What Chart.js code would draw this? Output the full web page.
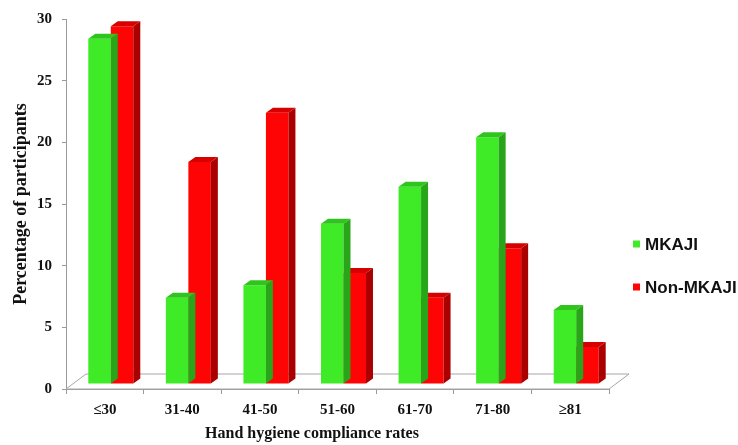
<!DOCTYPE html>
<html>
<head>
<meta charset="utf-8">
<script src="https://cdn.jsdelivr.net/npm/chart.js@4/dist/chart.umd.min.js"></script>
<style>
  html, body { margin: 0; padding: 0; background: #ffffff; }
  #wrap { width: 738px; height: 445px; }
</style>
</head>
<body>
<div id="wrap"><canvas id="c" width="738" height="445"></canvas></div>
<script>
const categories = ['\u226430', '31-40', '41-50', '51-60', '61-70', '71-80', '\u226581'];
const mkaji = [28, 7, 8, 13, 16, 20, 6];
const nonMkaji = [29, 18, 22, 9, 7, 11, 3];
const seriesLabels = ['MKAJI', 'Non-MKAJI'];
const yTitle = 'Percentage of participants';
const xTitle = 'Hand hygiene compliance rates';

const frontColors = ['rgb(62,235,38)', 'rgb(255,4,4)'];
const topColors = ['rgb(48,196,30)', 'rgb(214,0,0)'];
const sideColors = ['rgb(40,165,24)', 'rgb(170,0,0)'];

const BAR_SHIFT = { x: 6, y: -5 };
const BAR_DEPTH = { x: 7, y: -5 };
const FLOOR_DEPTH = { x: 20, y: -15 };

const threeD = {
  id: 'threeD',
  beforeDatasetsDraw(chart) {
    const ctx = chart.ctx, a = chart.chartArea;
    ctx.save();
    ctx.beginPath();
    ctx.moveTo(a.left, a.bottom);
    ctx.lineTo(a.right, a.bottom);
    ctx.lineTo(a.right + FLOOR_DEPTH.x, a.bottom + FLOOR_DEPTH.y);
    ctx.lineTo(a.left + FLOOR_DEPTH.x, a.bottom + FLOOR_DEPTH.y);
    ctx.closePath();
    ctx.fillStyle = '#ffffff';
    ctx.fill();
    ctx.strokeStyle = '#a6a6a6';
    ctx.lineWidth = 1;
    ctx.stroke();
    ctx.restore();
  },
  beforeDatasetDraw(chart) {
    chart.ctx.save();
    chart.ctx.translate(BAR_SHIFT.x, BAR_SHIFT.y);
  },
  afterDatasetDraw(chart, args) {
    const ctx = chart.ctx;
    const i = args.index;
    args.meta.data.forEach(el => {
      const p = el.getProps(['x', 'y', 'base', 'width'], true);
      const l = p.x - p.width / 2, r = p.x + p.width / 2;
      const t = Math.min(p.y, p.base), b = Math.max(p.y, p.base);
      // side
      ctx.beginPath();
      ctx.moveTo(r, t);
      ctx.lineTo(r + BAR_DEPTH.x, t + BAR_DEPTH.y);
      ctx.lineTo(r + BAR_DEPTH.x, b + BAR_DEPTH.y);
      ctx.lineTo(r, b);
      ctx.closePath();
      ctx.fillStyle = sideColors[i];
      ctx.fill();
      // top
      ctx.beginPath();
      ctx.moveTo(l, t);
      ctx.lineTo(l + BAR_DEPTH.x, t + BAR_DEPTH.y);
      ctx.lineTo(r + BAR_DEPTH.x, t + BAR_DEPTH.y);
      ctx.lineTo(r, t);
      ctx.closePath();
      ctx.fillStyle = topColors[i];
      ctx.fill();
    });
    ctx.restore();
  },
  afterDraw(chart) {
    const ctx = chart.ctx;
    ctx.save();
    // legend
    ctx.font = 'bold 17px "Liberation Sans", Arial, sans-serif';
    ctx.textBaseline = 'middle';
    ctx.textAlign = 'left';
    const ly = [244, 287];
    chart.data.datasets.forEach((ds, k) => {
      ctx.fillStyle = ds.backgroundColor;
      ctx.fillRect(633, ly[k] - 3.5, 7, 7);
      ctx.fillStyle = '#111111';
      ctx.fillText(ds.label, 645, ly[k] + 1);
    });
    // x axis title
    ctx.font = 'bold 16px "Liberation Serif", "Times New Roman", serif';
    ctx.textAlign = 'center';
    ctx.fillStyle = '#111111';
    ctx.fillText(xTitle, 312, 434);
    ctx.restore();
  }
};

new Chart(document.getElementById('c'), {
  type: 'bar',
  data: {
    labels: categories,
    datasets: [
      { label: seriesLabels[0], data: mkaji, backgroundColor: frontColors[0], borderWidth: 0, clip: false },
      { label: seriesLabels[1], data: nonMkaji, backgroundColor: frontColors[1], borderWidth: 0, clip: false }
    ]
  },
  options: {
    responsive: false,
    animation: false,
    devicePixelRatio: 1,
    layout: { padding: { left: 0, top: 17, right: 129, bottom: 0 } },
    datasets: { bar: { categoryPercentage: 0.58, barPercentage: 1.0 } },
    plugins: {
      legend: { display: false },
      tooltip: { enabled: false }
    },
    scales: {
      x: {
        afterFit(scale) { scale.height = 56; },
        border: { display: true, color: '#9a9a9a', width: 1 },
        grid: { display: true, drawOnChartArea: false, drawTicks: true, tickLength: 5, color: '#9a9a9a', offset: true },
        ticks: {
          color: '#111111',
          padding: 7,
          font: { family: '"Liberation Serif", "Times New Roman", serif', size: 15, weight: 'bold' }
        }
      },
      y: {
        min: 0,
        max: 30,
        afterFit(scale) { scale.width = 66; },
        border: { display: true, color: '#9a9a9a', width: 1 },
        grid: { display: true, drawOnChartArea: false, drawTicks: true, tickLength: 4, color: '#9a9a9a' },
        ticks: {
          stepSize: 5,
          color: '#111111',
          padding: 10,
          font: { family: '"Liberation Serif", "Times New Roman", serif', size: 15, weight: 'bold' }
        },
        title: {
          display: true,
          text: yTitle,
          color: '#111111',
          padding: { top: 11, bottom: 0 },
          font: { family: '"Liberation Serif", "Times New Roman", serif', size: 18, weight: 'bold' }
        }
      }
    }
  },
  plugins: [threeD]
});
</script>
</body>
</html>
